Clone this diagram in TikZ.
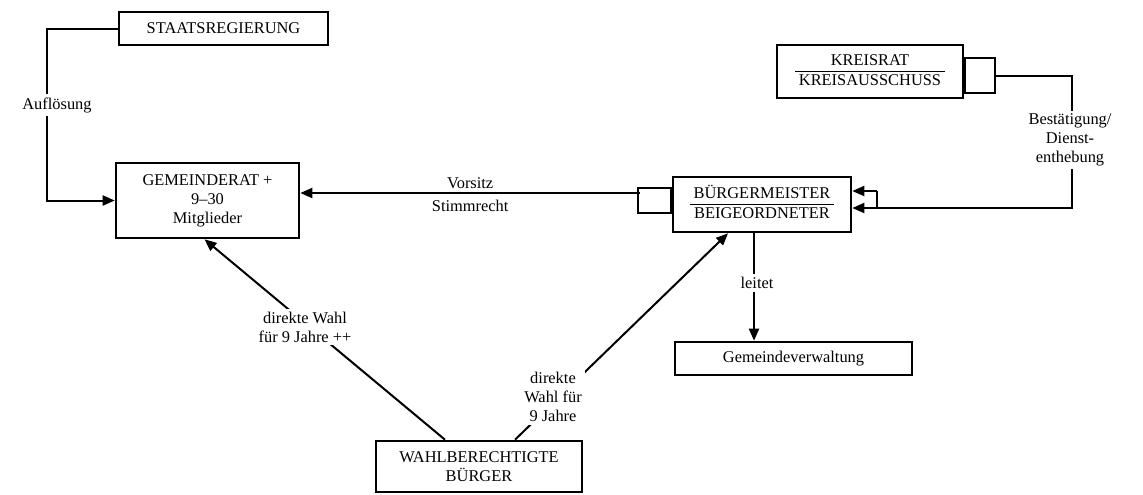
\documentclass[tikz,border=0pt]{standalone}
\usepackage{fontspec}
\setmainfont{Liberation Serif}
\usetikzlibrary{arrows.meta,positioning,calc}
\newcommand{\splitbox}[2]{\begin{tabular}{@{\hspace{2pt}}c@{\hspace{2pt}}}#1\\\hline #2\end{tabular}}

\begin{document}
\begin{tikzpicture}[x=0.5pt,y=-0.5pt,font=\fontsize{8.2}{9.5}\selectfont,
  box/.style={draw,line width=1.3pt,align=center,inner sep=0pt},
  stub/.style={draw,line width=1pt,inner sep=0pt},
  conn/.style={line width=1pt},
  arr/.style={conn,-{Triangle[length=6pt,width=5pt]}},
  lbl/.style={fill=white,align=center,inner sep=1.5pt}]
  \useasboundingbox (0,0) rectangle (1143,494);

  % boxes
  \node[box,minimum width=104.5pt,minimum height=16.5pt] (staat) at (223.5,28.5) {STAATSREGIERUNG};
  \node[box,minimum width=91.5pt,minimum height=37.5pt] (rat) at (207.5,200.5)
    {GEMEINDERAT +\\9–30\\Mitglieder};
  \node[box,minimum width=93pt,minimum height=26.5pt] (kreis) at (870,71.5)
    {\splitbox{KREISRAT}{KREISAUSSCHUSS}};
  \node[stub,minimum width=15pt,minimum height=17.5pt,right=0pt of kreis,yshift=-2pt] (kreisstub) {};
  \node[box,minimum width=89pt,minimum height=27.5pt] (bgm) at (762,204.5)
    {\splitbox{BÜRGERMEISTER}{BEIGEORDNETER}};
  \node[stub,minimum width=16.5pt,minimum height=12.5pt,left=0pt of bgm,yshift=2pt] (bgmstub) {};
  \node[box,minimum width=118.5pt,minimum height=16.5pt] (verw) at (793.5,358.5) {Gemeindeverwaltung};
  \node[box,minimum width=103pt,minimum height=25.5pt] (buerger) at (479,466.5)
    {WAHLBERECHTIGTE\\BÜRGER};

  \coordinate (rt) at (877,191);
  \coordinate (rb) at (877,208);
  \coordinate (kc) at (1072,0);
  \coordinate (lt) at (754,0);
  \coordinate (vs) at (640,193);

  % Aufloesung
  \draw[arr] (staat.west) -- ++(-71,0) |- (rat.west);
  \node[lbl] (aufl) at (57,105) {Auflösung};

  % Vorsitz
  \draw[arr] (vs) -- (rat.east |- vs)
    node[pos=0.5,above=-1.5pt] (vors) {Vorsitz}
    node[pos=0.5,below=-0.5pt] (stimm) {Stimmrecht};

  % Bestaetigung
  \draw[conn] (rt) -- (rb);
  \draw[arr] (rt) -- (rt -| bgm.east);
  \draw[arr] (rb) -- (rb -| bgm.east);
  \draw[conn] (kreisstub.east) -| (kc |- rb) -- (rb);
  \node[lbl] (best) at (1070,140) {Bestätigung/\\Dienst-\\enthebung};

  % leitet
  \draw[arr] (bgm.south -| lt) -- (verw.north -| lt);
  \node[lbl] (leit) at (757,283) {leitet};

  % Wahl
  \draw[arr] ($(buerger.north)+(-34,0)$) -- ($(rat.south)+(-3,0)$);
  \node[lbl] (wahlrat) at (305,327) {direkte Wahl\\für 9 Jahre ++};
  \draw[arr] ($(buerger.north)+(36,0)$) -- ($(bgm.south)+(-34,0)$);
  \node[lbl] (wahlbgm) at (553,397) {direkte\\Wahl für\\9 Jahre};
\end{tikzpicture}
\end{document}
